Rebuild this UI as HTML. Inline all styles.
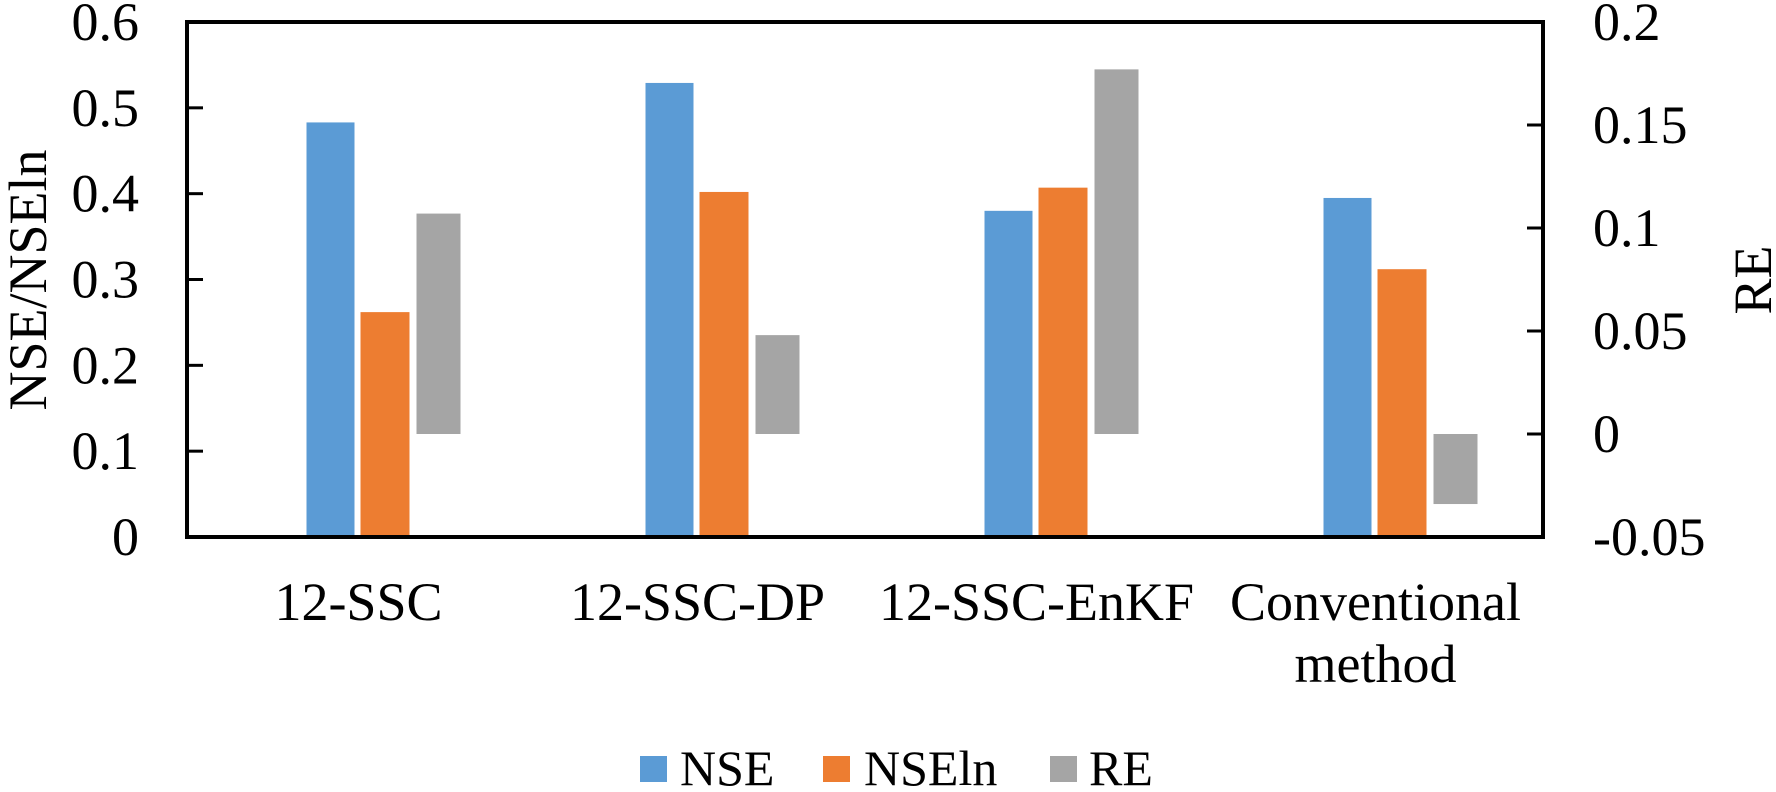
<!DOCTYPE html>
<html><head><meta charset="utf-8"><style>
html,body{margin:0;padding:0;background:#fff;}
svg{display:block;}
svg text{font-family:"Liberation Serif","Times New Roman",serif;}
</style></head><body>
<svg width="1776" height="792" viewBox="0 0 1776 792">
<g id="bars"></g>
<g id="axes"></g>
<text transform="translate(46,280) rotate(-90)" text-anchor="middle" font-size="54" font-family="Liberation Serif, serif">NSE/NSEln</text>
<text transform="translate(1771,280) rotate(-90)" text-anchor="middle" font-size="54" font-family="Liberation Serif, serif">RE</text>
<g>
<rect x="640" y="756" width="27" height="26" fill="#5B9BD5"/>
<text x="680" y="785" font-size="50" font-family="Liberation Serif, serif">NSE</text>
<rect x="823" y="756" width="27" height="26" fill="#ED7D31"/>
<text x="864" y="785" font-size="50" font-family="Liberation Serif, serif">NSEln</text>
<rect x="1050" y="756" width="27" height="26" fill="#A5A5A5"/>
<text x="1089" y="785" font-size="50" font-family="Liberation Serif, serif">RE</text>
</g>
</svg>
<script>
const categories = ["12-SSC","12-SSC-DP","12-SSC-EnKF","Conventional method"];
const nse = [0.483, 0.529, 0.380, 0.395];
const nseln = [0.262, 0.402, 0.407, 0.312];
const re = [0.107, 0.048, 0.177, -0.034];
const leftTicks = ["0","0.1","0.2","0.3","0.4","0.5","0.6"];
const rightTicks = ["-0.05","0","0.05","0.1","0.15","0.2"];

const NS="http://www.w3.org/2000/svg";
const L=187, R=1543, T=22, B=537;
const FF="Liberation Serif, serif";
const yL=v=>B-(v/0.6)*(B-T);
const yR=v=>B-((v+0.05)/0.25)*(B-T);
const cw=(R-L)/categories.length;
const cx=i=>L+cw*(i+0.5);
function mk(tag,attrs,parent){const e=document.createElementNS(NS,tag);for(const k in attrs)e.setAttribute(k,attrs[k]);parent.appendChild(e);return e;}
const bars=document.getElementById('bars'), axes=document.getElementById('axes');
categories.forEach((c,i)=>{
  const x=cx(i);
  let y1=yL(nse[i]);
  let r=mk('rect',{x:x-50,y:y1,width:48,height:B-y1,fill:'#5B9BD5'},bars);
  
  
  let y2=yL(nseln[i]);
  r=mk('rect',{x:x+4,y:y2,width:49,height:B-y2,fill:'#ED7D31'},bars);
  
  
  const y0=yR(0), y3=yR(re[i]);
  r=mk('rect',{x:x+60,y:Math.min(y0,y3),width:44,height:Math.abs(y0-y3),fill:'#A5A5A5'},bars);
  
  
  const words=c==="Conventional method"?["Conventional","method"]:[c];
  words.forEach((w,j)=>{
    const t=mk('text',{x:x+2,y:620+j*62,'text-anchor':'middle','font-size':54,'font-family':FF},axes);
    t.textContent=w;
    
    
  });
});
leftTicks.forEach(s=>{
  const y=yL(parseFloat(s));
  const l=mk('line',{x1:L,x2:L+16,y1:y,y2:y,stroke:'#000','stroke-width':3},axes);
  
  
  const t=mk('text',{x:139,y:y+18,'text-anchor':'end','font-size':54,'font-family':FF},axes);
  t.textContent=s;
  
  
});
rightTicks.forEach(s=>{
  const y=yR(parseFloat(s));
  const l=mk('line',{x1:R-16,x2:R,y1:y,y2:y,stroke:'#000','stroke-width':3},axes);
  
  
  const t=mk('text',{x:1593,y:y+18,'font-size':54,'font-family':FF},axes);
  t.textContent=s;
  
  
});
const f=mk('rect',{x:L,y:T,width:R-L,height:B-T,fill:'none',stroke:'#000','stroke-width':4},axes);


</script>
</body></html>
